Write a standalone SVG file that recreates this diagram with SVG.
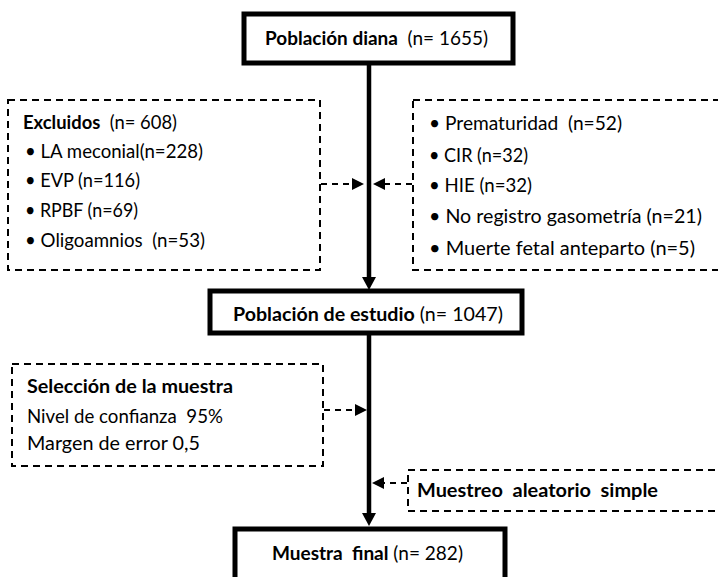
<svg xmlns="http://www.w3.org/2000/svg" width="718" height="577" viewBox="0 0 718 577">
<defs>
<style>
text{font-family:"Lato","Open Sans","Liberation Sans",sans-serif;font-size:19.5px;fill:#000;white-space:pre}
.b{font-weight:bold}
.solid{fill:#fff;stroke:#000;stroke-width:5}
.dash{fill:#fff;stroke:#000;stroke-width:2;stroke-dasharray:7 5}
.main{stroke:#000;stroke-width:4.5;fill:none}
.dl{stroke:#000;stroke-width:2;stroke-dasharray:6 5;fill:none}
.head{fill:#000}
</style>
</defs>
<rect width="718" height="577" fill="#fff"/>
<g id="connectors">
<line class="main" x1="369" y1="63" x2="369" y2="278"/>
<polygon class="head" points="362,277 376,277 369,290"/>
<line class="main" x1="369" y1="335" x2="369" y2="514"/>
<polygon class="head" points="362,513 376,513 369,526"/>
<line class="dl" x1="321" y1="184" x2="353" y2="184"/>
<polygon class="head" points="352,178 352,190 364,184"/>
<line class="dl" x1="412" y1="184" x2="384" y2="184"/>
<polygon class="head" points="385,178 385,190 373,184"/>
<line class="dl" x1="324" y1="410" x2="356" y2="410"/>
<polygon class="head" points="355,404 355,416 367,410"/>
<line class="dl" x1="407" y1="483" x2="383" y2="483"/>
<polygon class="head" points="384,477 384,489 372,483"/>
</g>
<g id="poblacion-diana">
<rect class="solid" x="244" y="14" width="269" height="49"/>
<text x="265" y="45" textLength="223" lengthAdjust="spacingAndGlyphs"><tspan class="b">Población diana</tspan>  (n= 1655)</text>
</g>
<g id="excluidos">
<rect class="dash" x="8" y="100" width="312" height="170"/>
<text x="23" y="129" textLength="154" lengthAdjust="spacingAndGlyphs"><tspan class="b">Excluidos</tspan>  (n= 608)</text>
<text x="25" y="158" textLength="178" lengthAdjust="spacingAndGlyphs">• LA meconial(n=228)</text>
<text x="25" y="187" textLength="115" lengthAdjust="spacingAndGlyphs">• EVP (n=116)</text>
<text x="25" y="217" textLength="113" lengthAdjust="spacingAndGlyphs">• RPBF (n=69)</text>
<text x="25" y="247" textLength="180" lengthAdjust="spacingAndGlyphs">• Oligoamnios  (n=53)</text>
</g>
<g id="otras-exclusiones">
<rect class="dash" x="413" y="100" width="320" height="170"/>
<text x="429" y="130" textLength="193" lengthAdjust="spacingAndGlyphs">• Prematuridad  (n=52)</text>
<text x="429" y="162" textLength="99" lengthAdjust="spacingAndGlyphs">• CIR (n=32)</text>
<text x="429" y="192" textLength="103" lengthAdjust="spacingAndGlyphs">• HIE (n=32)</text>
<text x="429" y="223" textLength="273" lengthAdjust="spacingAndGlyphs">• No registro gasometría (n=21)</text>
<text x="429" y="255" textLength="266" lengthAdjust="spacingAndGlyphs">• Muerte fetal anteparto (n=5)</text>
</g>
<g id="poblacion-estudio">
<rect class="solid" x="210" y="291" width="312" height="42"/>
<text x="233" y="321" textLength="270" lengthAdjust="spacingAndGlyphs"><tspan class="b">Población de estudio</tspan> (n= 1047)</text>
</g>
<g id="seleccion">
<rect class="dash" x="12" y="364" width="311" height="102"/>
<text class="b" x="27" y="393" textLength="206" lengthAdjust="spacingAndGlyphs">Selección de la muestra</text>
<text x="27" y="423" textLength="196" lengthAdjust="spacingAndGlyphs">Nivel de confianza  95%</text>
<text x="27" y="450" textLength="173" lengthAdjust="spacingAndGlyphs">Margen de error 0,5</text>
</g>
<g id="muestreo">
<rect class="dash" x="408" y="470" width="325" height="41"/>
<text class="b" x="417" y="497" textLength="241" lengthAdjust="spacingAndGlyphs">Muestreo  aleatorio  simple</text>
</g>
<g id="muestra-final">
<rect class="solid" x="235" y="529" width="270" height="60"/>
<text x="272" y="560" textLength="191" lengthAdjust="spacingAndGlyphs"><tspan class="b">Muestra  final</tspan> (n= 282)</text>
</g>
</svg>
